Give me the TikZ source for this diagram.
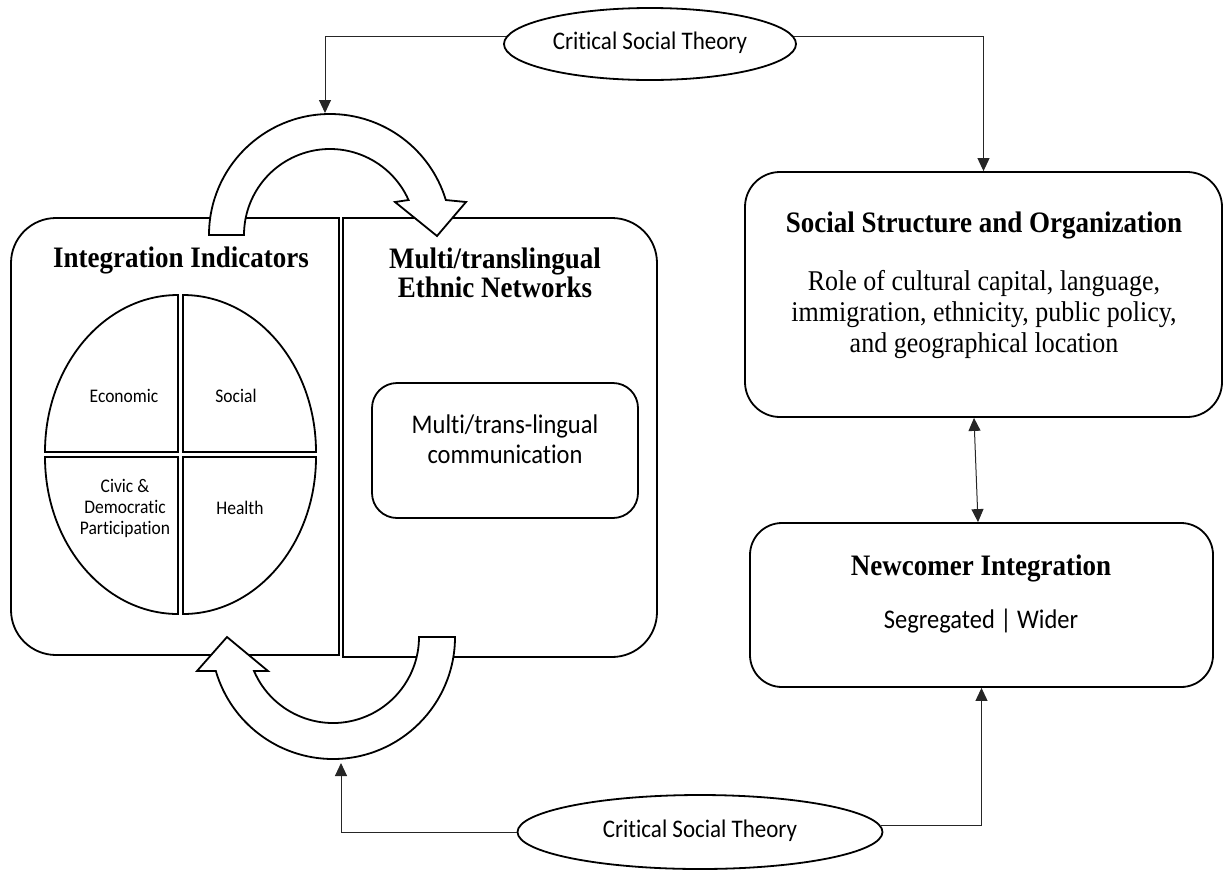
\documentclass[tikz,border=0pt]{standalone}
\usepackage{graphicx}
\usepackage{fontspec}
\setmainfont{Liberation Serif}
\newfontfamily\calibri{Carlito}[Ligatures=NoCommon]
\usetikzlibrary{arrows.meta,shapes.geometric,calc}
\newcommand{\stt}[1]{\scalebox{1}[1.1]{\begin{tabular}{@{}c@{}}#1\end{tabular}}}
\begin{document}
\begin{tikzpicture}[x=1pt,y=-1pt,
  box/.style={draw=black, line width=1.8pt},
  rbox/.style={box, rounded corners=#1},
  conn/.style={draw=black!85, line width=1pt},
  tip/.style={-{Triangle[width=12pt,length=13pt]}},
  dtip/.style={{Triangle[width=12pt,length=13pt]}-{Triangle[width=12pt,length=13pt]}},
  hd/.style={font=\fontsize{27}{26.5}\selectfont\bfseries, inner sep=0pt},
  body/.style={font=\fontsize{26}{28.2}\selectfont, inner sep=0pt},
  cal/.style={font=\calibri\fontsize{24.5}{27.3}\selectfont, inner sep=0pt},
  small/.style={font=\calibri\fontsize{17.5}{19}\selectfont, inner sep=0pt},
  cst/.style={ellipse, draw=black, line width=1.8pt, inner sep=0pt, font=\calibri\fontsize{23}{25}\selectfont},
  quad/.style={draw=black, line width=1.8pt},
  curved/.style={draw=black, line width=1.8pt, fill=white, line join=miter}
]
\useasboundingbox (0,0) rectangle (1223,871);

% left and right panels
\draw[box] (339,218) -- (56,218) arc[start angle=270, end angle=180, radius=45]
  -- (11,610) arc[start angle=180, end angle=90, radius=45] -- (339,655) -- cycle;
\draw[box] (343,218) -- (612,218) arc[start angle=270, end angle=360, radius=45]
  -- (657,612) arc[start angle=0, end angle=90, radius=45] -- (343,657) -- cycle;

\node[hd] (hInt) at (181,262) {\stt{Integration Indicators}};
\node[hd] (hMulti) at (495,277) {\stt{Multi/translingual\\Ethnic Networks}};

% quadrants
\draw[quad] (178,452) -- (45,452) arc[start angle=180, end angle=270, x radius=133, y radius=157] -- cycle;
\draw[quad] (183,452) -- (183,295) arc[start angle=270, end angle=360, x radius=133, y radius=157] -- cycle;
\draw[quad] (178,457) -- (45,457) arc[start angle=180, end angle=90, x radius=133, y radius=157] -- cycle;
\draw[quad] (183,457) -- (316,457) arc[start angle=0, end angle=90, x radius=133, y radius=157] -- cycle;
\node[small] (qEco) at (124,398) {\stt{Economic}};
\node[small] (qSoc) at (236,398) {\stt{Social}};
\node[small] (qCiv) at (125,509) {\stt{Civic \&\\Democratic\\Participation}};
\node[small] (qHea) at (240,510) {\stt{Health}};

% communication box
\node[rbox=25pt, minimum width=266pt, minimum height=135pt] (comm) at (505,450.5) {};
\node[cal] (commT) at (505,442) {\stt{Multi/trans-lingual\\communication}};

% right boxes
\node[rbox=35pt, minimum width=477pt, minimum height=245pt] (social) at (983.5,294.5) {};
\node[hd] (socH) at (984,227) {\stt{Social Structure and Organization}};
\node[body] (socB) at (984,315) {\stt{Role of cultural capital, language,\\immigration, ethnicity, public policy,\\and geographical location}};

\node[rbox=32pt, minimum width=463pt, minimum height=164pt] (newc) at (981.5,605) {};
\node[hd] (newH) at (981,570) {\stt{Newcomer Integration}};
\node[cal] (newB) at (981,622) {\stt{Segregated | Wider}};

% curved block arrows
\coordinate (C1) at (330,235);
\draw[curved] ($(C1)+(180:121)$) arc[start angle=180, end angle=343.2, radius=121]
  -- (466,202) -- (437,236) -- (395,202)
  -- ($(C1)+(336:86)$) arc[start angle=336, end angle=180, radius=86] -- cycle;
\coordinate (C2) at (333,637);
\draw[curved] ($(C2)+(0:122)$) arc[start angle=0, end angle=163.8, radius=122]
  -- (197,671) -- (227,637) -- (268,671)
  -- ($(C2)+(156.7:86)$) arc[start angle=156.7, end angle=0, radius=86] -- cycle;

% ellipses
\node[cst, minimum width=292pt, minimum height=72pt] (topE) at (650,44) {\stt{Critical Social Theory}};
\node[cst, minimum width=365pt, minimum height=74pt] (botE) at (700,832) {\stt{Critical Social Theory}};

% connectors
\coordinate (ta) at (325,113);
\coordinate (ba) at (341,763);
\draw[conn,tip] (topE.177) -| (ta);
\draw[conn,tip] (topE.3) -| (social.north);
\draw[conn,tip] (botE.west) -| (ba);
\draw[conn,tip] (botE.2) -| (newc.south);
\draw[conn,dtip] ($(social.south)+(-9.5,0)$) -- ($(newc.north)+(-3.5,0)$);
\end{tikzpicture}
\end{document}
